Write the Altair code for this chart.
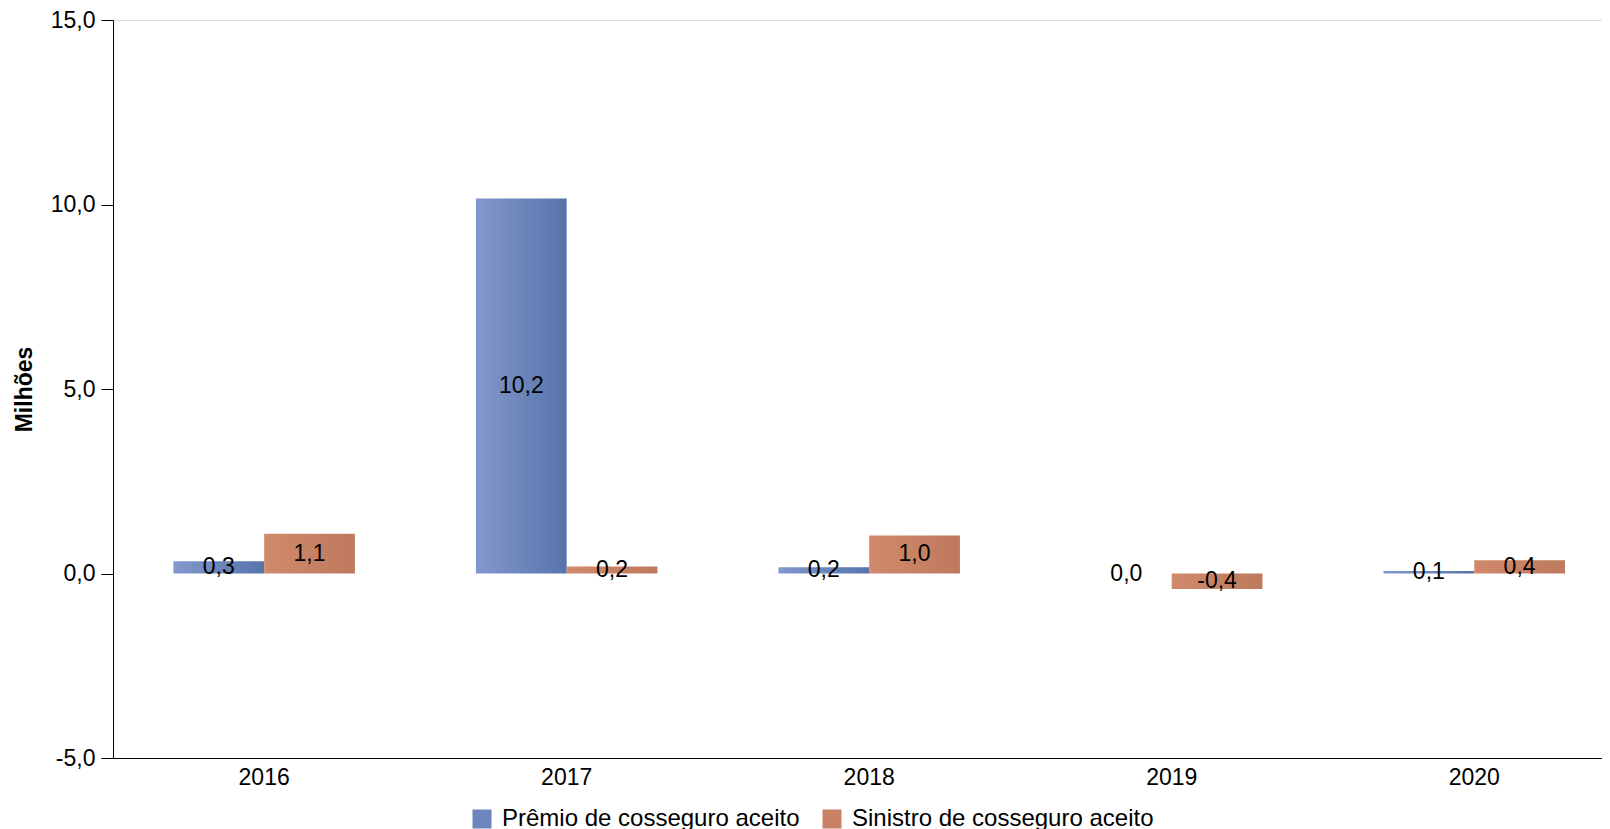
import altair as alt
import pandas as pd

years = ["2016", "2017", "2018", "2019", "2020"]
series = ["Prêmio de cosseguro aceito", "Sinistro de cosseguro aceito"]
premio = [0.33, 10.16, 0.17, 0.0, 0.07]
sinistro = [1.08, 0.19, 1.03, -0.42, 0.36]

rows = []
for i, y in enumerate(years):
    rows.append({"ano": y, "serie": series[0], "valor": premio[i]})
    rows.append({"ano": y, "serie": series[1], "valor": sinistro[i]})
df = pd.DataFrame(rows)

FONT = "Liberation Sans"
FS = 23

grad_blue = {
    "gradient": "linear", "x1": 0, "x2": 1, "y1": 0, "y2": 0,
    "stops": [{"offset": 0, "color": "#8298CE"}, {"offset": 1, "color": "#5774AA"}],
}
grad_orange = {
    "gradient": "linear", "x1": 0, "x2": 1, "y1": 0, "y2": 0,
    "stops": [{"offset": 0, "color": "#D1896B"}, {"offset": 1, "color": "#BE7A5E"}],
}

x_enc = alt.X(
    "ano:N",
    sort=years,
    scale=alt.Scale(paddingInner=0.4, paddingOuter=0.161, align=0.62),
    axis=alt.Axis(title=None, labelAngle=0, ticks=False, domainColor="black",
                  labelFontSize=FS, labelColor="black", labelPadding=8, labelFont=FONT),
)
xoff = alt.XOffset("serie:N", sort=series)
y_axis = alt.Axis(
    values=[-5, 0, 5, 10, 15],
    labelExpr="replace(replace(format(datum.value, '.1f'), '.', ','), '\u2212', '-')",
    title="Milhões", grid=False, tickSize=12, tickColor="black", domainColor="black",
    labelFontSize=FS, labelColor="black", labelPadding=6, labelFont=FONT,
    titleFontSize=FS, titleFontWeight="bold", titleColor="black", titlePadding=14, titleFont=FONT,
)
y_scale = alt.Scale(domain=[-5, 15], nice=False, zero=False)

base = alt.Chart(df)

bars = base.mark_bar().encode(
    x=x_enc,
    xOffset=xoff,
    y=alt.Y("valor:Q", scale=y_scale, axis=y_axis),
    fill=alt.condition(alt.datum.serie == series[0], alt.value(grad_blue), alt.value(grad_orange)),
)

legend_layer = base.mark_square(opacity=0).encode(
    x=x_enc,
    xOffset=xoff,
    y=alt.Y("valor:Q", scale=y_scale, axis=y_axis),
    color=alt.Color(
        "serie:N",
        sort=series,
        scale=alt.Scale(domain=series, range=["#6D86BE", "#C88165"]),
        legend=alt.Legend(
            title=None, orient="none", legendX=357, legendY=787, direction="horizontal",
            symbolType="square", symbolSize=361, symbolOpacity=1, symbolStrokeWidth=0,
            labelFontSize=24, labelFont=FONT, labelColor="black", labelOffset=8,
            labelLimit=0, columnPadding=20, padding=0,
        ),
    ),
)

labels = base.transform_calculate(
    meio="datum.valor / 2",
    rotulo="replace(replace(format(datum.valor, '.1f'), '.', ','), '\u2212', '-')",
).mark_text(fontSize=FS, font=FONT, color="black", align="center", baseline="middle").encode(
    x=x_enc,
    xOffset=xoff,
    y=alt.Y("meio:Q", scale=y_scale, axis=y_axis),
    text="rotulo:N",
)

chart = alt.layer(bars, legend_layer, labels).properties(
    width=1489, height=738,
    padding={"left": 5, "top": 1, "right": 0, "bottom": 0},
).configure_view(stroke=None).configure(background="white")

chart.save("out.html", embed_options={"renderer": "svg", "actions": False})
